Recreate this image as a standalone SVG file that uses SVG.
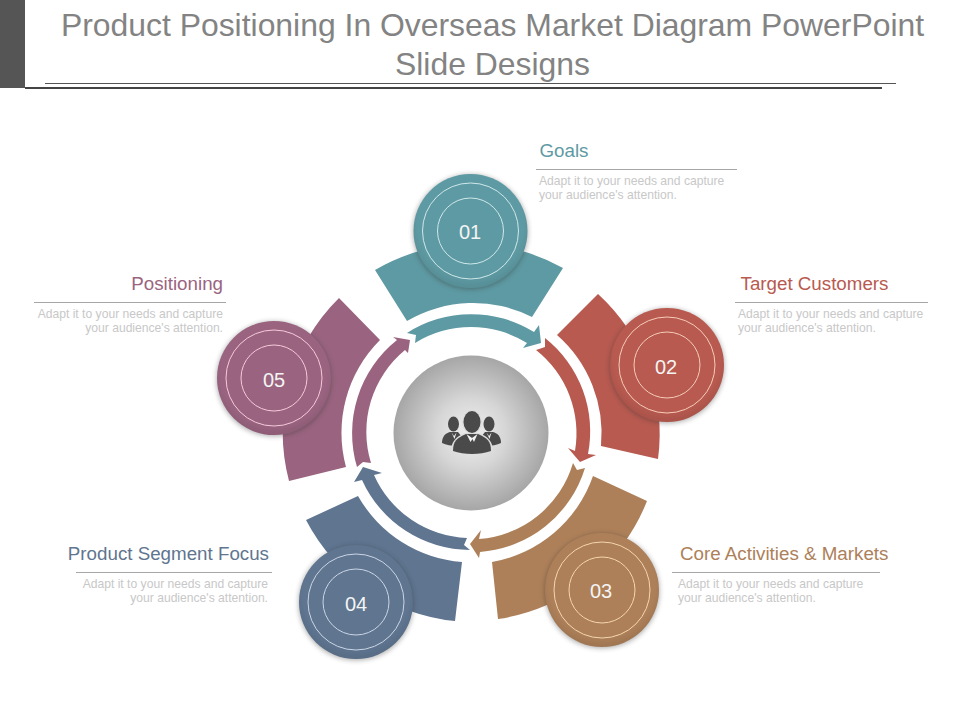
<svg xmlns="http://www.w3.org/2000/svg" width="960" height="720" viewBox="0 0 960 720">
<defs>
<radialGradient id="hub" cx="50%" cy="50%" r="50%"><stop offset="0" stop-color="#f0f0f0"/><stop offset="0.45" stop-color="#d6d6d6"/><stop offset="1" stop-color="#a6a6a6"/></radialGradient>
<filter id="sh" x="-20%" y="-20%" width="140%" height="140%"><feGaussianBlur stdDeviation="2.5"/></filter>
<radialGradient id="edge" cx="50%" cy="44%" r="54%"><stop offset="0.86" stop-color="#000" stop-opacity="0"/><stop offset="1" stop-color="#000" stop-opacity="0.07"/></radialGradient>
</defs>
<style>
text{font-family:"Liberation Sans",Arial,sans-serif}
.title{font-size:31.9px;fill:#838383;text-anchor:middle}
.head{font-size:18.75px}
.body{font-size:12.13px;fill:#c8c8c8}
.end{text-anchor:end}
.rule{stroke:#a6a6a6;stroke-width:1;fill:none}
.num{font-size:20px;fill:#f4f4f4;text-anchor:middle}
.ring{fill:none;stroke-width:1}
.shadow{fill:#333;opacity:.38;filter:url(#sh)}
.icon{fill:#4a4a4a}
.teal{fill:#5E9AA3}.red{fill:#B85A50}.brown{fill:#AD8059}.blue{fill:#5F7590}.mauve{fill:#9A6480}
</style>
<g id="header">
<rect x="0" y="0" width="25" height="88" fill="#555555"/>
<rect x="25" y="87" width="857" height="2" fill="#444444"/>
<line x1="45" y1="83.500" x2="896" y2="83.500" stroke="#555555" stroke-width="1"/>
<text class="title" x="492.500" y="36">Product Positioning In Overseas Market Diagram PowerPoint</text>
<text class="title" x="492.500" y="75">Slide Designs</text>
</g>
<g id="connectors">
<path class="teal" d="M407,333 A119,119 0 0 1 534,332 L539,325 L541,343 L523,348 L527,343 A106,106 0 0 0 415,343 L416,335 Z"/>
<path class="red" d="M545,338 A119,119 0 0 1 588,454 L596,455 L580,462 L568,448 L575,451 A106,106 0 0 0 536,350 L545,347 Z"/>
<path class="brown" d="M585,468 A119,119 0 0 1 480,552 L479,558 L470,544 L481,530 L479,539 A106,106 0 0 0 573,463 L577,470 Z"/>
<path class="blue" d="M470,550 A119,119 0 0 1 362,480 L354,482 L363,467 L382,473 L374,475 A106,106 0 0 0 467,538 L464,545 Z"/>
<path class="mauve" d="M357,467 A119,119 0 0 1 397,340 L393,337 L410,340 L408,353 L405,350 A106,106 0 0 0 371,463 L363,462 Z"/>
</g>
<g id="hub-node">
<circle cx="471" cy="433" r="77.500" fill="url(#hub)"/>
<g class="icon">
<ellipse cx="453.500" cy="424" rx="5.500" ry="7.500"/>
<path d="M442,443 C442,436 446,433 450,432 L458,432 L462,437 L458,446 C451,446 446,445 442,443 Z"/>
<ellipse cx="489" cy="424" rx="5.500" ry="7.500"/>
<path d="M501,443 C501,436 497,433 493,432 L485,432 L481,437 L485,446 C492,446 497,445 501,443 Z"/>
</g>
<path d="M451.500,432.500 L454,436 L456.500,432.500 L454.500,439 Z M486.500,432.500 L489,436 L491.500,432.500 L489.500,439 Z" fill="#eeeeee"/>
<ellipse cx="472" cy="422" rx="10" ry="12" fill="#dddddd"/>
<path d="M451,452 C451,441 456,437 465,433 L479,433 C488,437 493,441 493,452 Z" fill="#dddddd"/>
<ellipse class="icon" cx="472" cy="422" rx="8.500" ry="11"/>
<path class="icon" d="M453,451 C453,441 457,438 466,434 L478,434 C487,438 491,441 491,451 C480,455 464,455 453,451 Z"/>
<path d="M466.500,434 L472,438 L477.500,434 L474,442 L472.500,439 L470.500,442 Z" fill="#f2f2f2"/>
</g>
<g id="node-01">
<path class="teal" d="M375,270 A189,189 0 0 1 563,268 L532,317 A131,131 0 0 0 407,321 Z"/>
<circle class="shadow" cx="470.500" cy="232" r="57.500"/>
<circle class="teal" cx="470.500" cy="231" r="57"/>
<circle cx="470.500" cy="231" r="57" fill="url(#edge)"/>
<circle class="ring" cx="470.500" cy="231" r="48" stroke="#CFE8EA"/>
<circle class="ring" cx="470.500" cy="231" r="33" stroke="#CFE8EA"/>
<text class="num" x="470" y="238.500">01</text>
<text class="head" x="539.500" y="156.500" fill="#5E9AA3">Goals</text>
<line class="rule" x1="536" y1="169.500" x2="737" y2="169.500"/>
<text class="body" x="539" y="185">Adapt it to your needs and capture</text>
<text class="body" x="539" y="199">your audience's attention.</text>
</g>
<g id="node-02">
<path class="red" d="M598,294 A189,189 0 0 1 658,459 L601,446 A131,131 0 0 0 557,335 Z"/>
<circle class="shadow" cx="667" cy="366" r="57.500"/>
<circle class="red" cx="667" cy="365" r="57"/>
<circle cx="667" cy="365" r="57" fill="url(#edge)"/>
<circle class="ring" cx="667" cy="365" r="48" stroke="#F6CDB8"/>
<circle class="ring" cx="667" cy="365" r="33" stroke="#F6CDB8"/>
<text class="num" x="666" y="373.500">02</text>
<text class="head" x="740.500" y="289.500" fill="#B85A50">Target Customers</text>
<line class="rule" x1="735" y1="302.500" x2="928" y2="302.500"/>
<text class="body" x="738" y="318">Adapt it to your needs and capture</text>
<text class="body" x="738" y="332">your audience's attention.</text>
</g>
<g id="node-03">
<path class="brown" d="M647,501 A189,189 0 0 1 498,619 L492,562 A131,131 0 0 0 593,476 Z"/>
<circle class="shadow" cx="602" cy="591" r="57.500"/>
<circle class="brown" cx="602" cy="590" r="57"/>
<circle cx="602" cy="590" r="57" fill="url(#edge)"/>
<circle class="ring" cx="602" cy="590" r="48" stroke="#F5D6AE"/>
<circle class="ring" cx="602" cy="590" r="33" stroke="#F5D6AE"/>
<text class="num" x="601" y="597.500">03</text>
<text class="head" x="680" y="559.500" fill="#AD8059">Core Activities &amp; Markets</text>
<line class="rule" x1="672" y1="572.500" x2="880" y2="572.500"/>
<text class="body" x="678" y="588">Adapt it to your needs and capture</text>
<text class="body" x="678" y="602">your audience's attention.</text>
</g>
<g id="node-04">
<path class="blue" d="M455,621 A189,189 0 0 1 306,520 L358,496 A131,131 0 0 0 462,562 Z"/>
<circle class="shadow" cx="356" cy="603" r="57.500"/>
<circle class="blue" cx="356" cy="602" r="57"/>
<circle cx="356" cy="602" r="57" fill="url(#edge)"/>
<circle class="ring" cx="356" cy="602" r="48" stroke="#CBD6E6"/>
<circle class="ring" cx="356" cy="602" r="33" stroke="#CBD6E6"/>
<text class="num" x="356" y="610.500">04</text>
<text class="head end" x="269" y="559.500" fill="#5F7590">Product Segment Focus</text>
<line class="rule" x1="76" y1="572.500" x2="272" y2="572.500"/>
<text class="body end" x="268" y="588">Adapt it to your needs and capture</text>
<text class="body end" x="268" y="602">your audience's attention.</text>
</g>
<g id="node-05">
<path class="mauve" d="M289,481 A189,189 0 0 1 339,298 L380,340 A131,131 0 0 0 346,467 Z"/>
<circle class="shadow" cx="274" cy="379" r="57.500"/>
<circle class="mauve" cx="274" cy="378" r="57"/>
<circle cx="274" cy="378" r="57" fill="url(#edge)"/>
<circle class="ring" cx="274" cy="378" r="48" stroke="#F6C9DB"/>
<circle class="ring" cx="274" cy="378" r="33" stroke="#F6C9DB"/>
<text class="num" x="274" y="386.500">05</text>
<text class="head end" x="223" y="289.500" fill="#9A6480">Positioning</text>
<line class="rule" x1="34" y1="302.500" x2="226" y2="302.500"/>
<text class="body end" x="223" y="318">Adapt it to your needs and capture</text>
<text class="body end" x="223" y="332">your audience's attention.</text>
</g>
</svg>
